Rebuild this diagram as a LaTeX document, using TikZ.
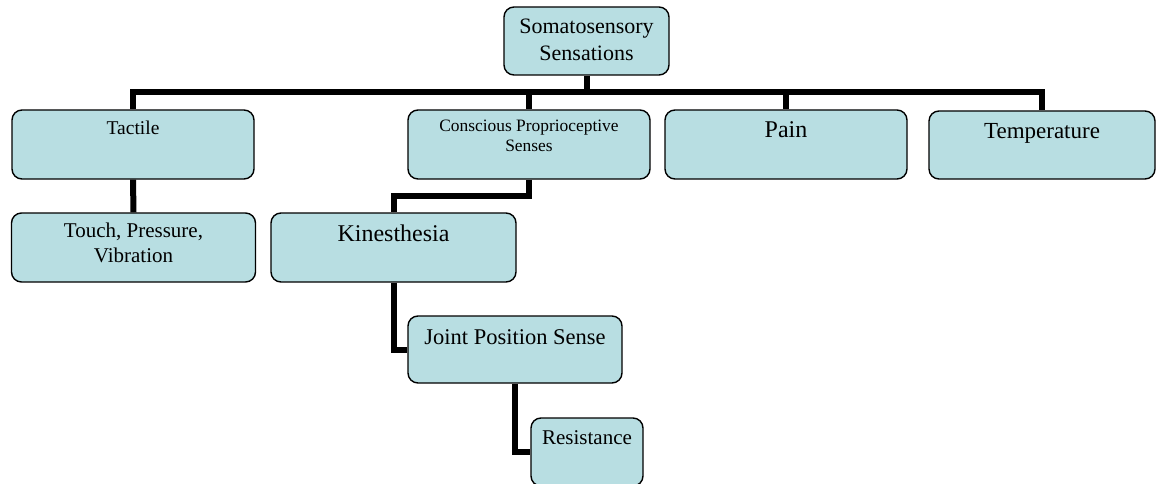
\documentclass[tikz,border=0pt]{standalone}
\usepackage{fontspec}
\setmainfont{Liberation Serif}
\definecolor{boxfill}{RGB}{184,222,226}
\begin{document}
\begin{tikzpicture}[x=1pt,y=-1pt,
  box/.style={draw=black, line width=1.4pt, fill=boxfill, rounded corners=10pt, inner sep=0pt},
  txt/.style={inner sep=0pt, anchor=north, align=center, text=black},
  conn/.style={draw=black, line width=6pt, line join=miter}]
\useasboundingbox (0,0) rectangle (1156,484);
\clip (0,0) rectangle (1156,484);
% boxes
\node[box, minimum width=165pt, minimum height=68pt] (som) at (586.5,41) {};
\node[box, minimum width=242pt, minimum height=69pt] (tac) at (133,144.5) {};
\node[box, minimum width=242pt, minimum height=69pt] (con) at (529,144.5) {};
\node[box, minimum width=242pt, minimum height=69pt] (pain) at (786,144.5) {};
\node[box, minimum width=226pt, minimum height=68pt] (temp) at (1042,145) {};
\node[box, minimum width=244pt, minimum height=69pt] (touch) at (133.5,247.5) {};
\node[box, minimum width=245pt, minimum height=69pt] (kin) at (393.5,247.5) {};
\node[box, minimum width=214pt, minimum height=67pt] (joint) at (515,349.5) {};
\node[box, minimum width=112pt, minimum height=68pt] (res) at (587,452) {};
% texts
\node[txt, font={\fontsize{22}{27}\selectfont}] at ([yshift=-12pt]som.north) {Somatosensory\\Sensations};
\node[txt, font={\fontsize{19.5}{23}\selectfont}] at ([yshift=-11.7pt]tac.north) {Tactile};
\node[txt, font={\fontsize{17.4}{20}\selectfont}] at ([yshift=-10pt]con.north) {Conscious Proprioceptive\\Senses};
\node[txt, font={\fontsize{24}{28}\selectfont}] at ([yshift=-11.7pt]pain.north) {Pain};
\node[txt, font={\fontsize{23}{27}\selectfont}] at ([yshift=-13pt]temp.north) {Temperature};
\node[txt, font={\fontsize{21}{25}\selectfont}] at ([yshift=-10.7pt]touch.north) {Touch, Pressure,\\Vibration};
\node[txt, font={\fontsize{24}{28}\selectfont}] at ([yshift=-12.7pt]kin.north) {Kinesthesia};
\node[txt, font={\fontsize{22.5}{27}\selectfont}] at ([yshift=-13.7pt]joint.north) {Joint Position Sense};
\node[txt, font={\fontsize{21}{25}\selectfont}] at ([yshift=-12.7pt]res.north) {Resistance};
% connectors
\coordinate (bus) at (0,92);
\begin{scope}[on background layer/.style={}]
\draw[conn] (som.south) -- (som.south |- bus) -| (tac.north);
\draw[conn] (som.south |- bus) -| (temp.north);
\draw[conn] (con.north |- bus) -- (con.north);
\draw[conn] (pain.north |- bus) -- (pain.north);
\draw[conn] (tac.south) -- (touch.north);
\draw[conn] (con.south) -- ++(0,16) -| (kin.north);
\draw[conn] (kin.south) |- (joint.west);
\draw[conn] (joint.south) |- (res.west);
\end{scope}
\end{tikzpicture}
\end{document}
